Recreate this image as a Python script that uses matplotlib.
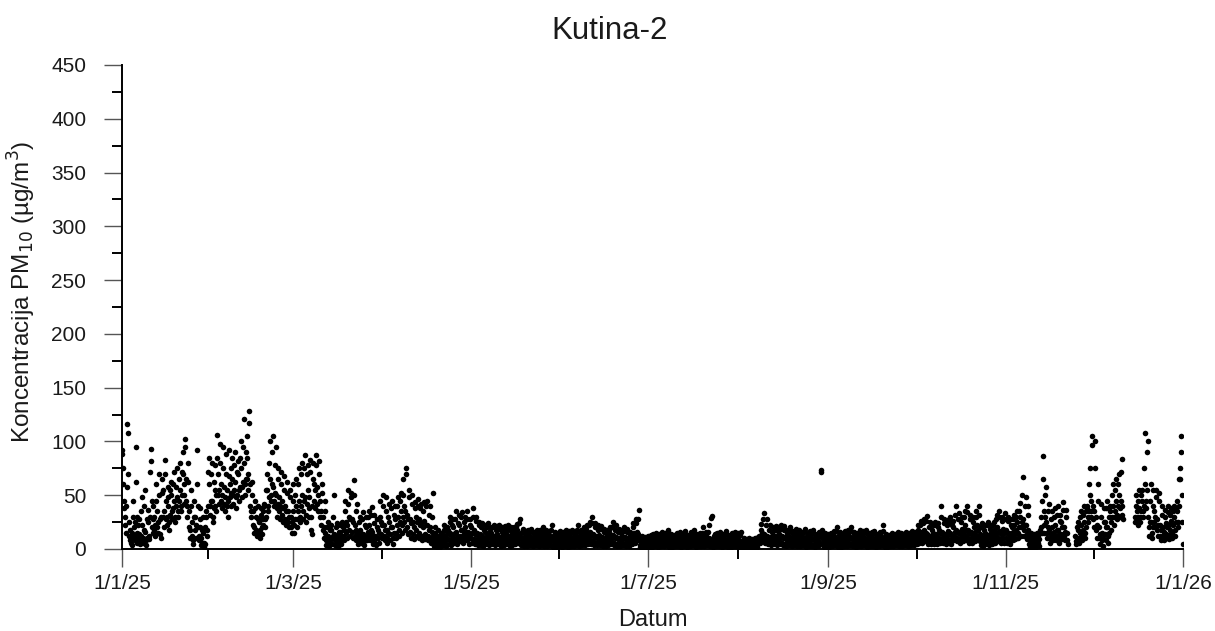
import numpy as np
import matplotlib
matplotlib.use("Agg")
import matplotlib.pyplot as plt
from matplotlib.ticker import FixedLocator, NullFormatter

# PM10 readings at Kutina-2, six readings per day (00, 04, 08, 12, 16, 20 h), µg/m3.
# "nan" marks hours without a valid measurement.
jan = """
88 92 75 60 45 38
30 22 15 40 58 116
108 70 25 12 8 18
10 6 4 15 30 45
20 12 8 25 62 95
30 15 6 10 22 28
14 8 5 12 35 48
22 10 6 18 40 55
16 8 4 10 28 36
25 12 9 30 72 93
82 45 20 15 28 40
30 18 12 22 45 60
35 20 15 25 50 70
28 14 10 30 52 65
55 30 20 35 70 83
45 28 22 30 48 58
40 25 18 32 55 62
50 35 28 38 60 72
45 30 25 40 58 75
48 35 30 45 65 80
55 40 35 50 72 90
70 50 42 60 95 102
65 45 30 40 62 80
35 20 10 18 40 55
25 12 5 8 30 45
30 18 10 22 60 92
40 20 8 12 28 38
20 10 4 6 18 30
15 6 2 5 20 35
30 18 12 40 72 85
60 40 32 45 70 80
"""
feb = """
45 30 25 38 62 78
55 40 35 50 85 106
70 50 42 55 80 98
60 45 38 50 75 95
58 42 35 48 70 88
55 40 30 45 68 92
60 48 40 52 75 85
65 50 42 55 78 90
62 48 38 50 72 82
70 55 45 58 85 100
75 58 48 62 95 121
80 60 50 65 90 105
85 65 55 70 117 128
60 40 30 35 50 62
35 22 15 20 38 45
30 18 12 15 28 40
25 15 10 18 32 38
28 20 14 22 35 42
40 28 20 30 55 70
55 40 35 48 80 100
65 50 45 60 90 105
58 45 40 52 78 95
50 38 30 42 65 75
48 35 28 40 60 72
45 32 25 38 55 68
40 28 22 35 52 62
35 25 20 30 48 55
30 20 15 25 45 60
"""
mar = """
35 22 15 28 50 65
40 28 20 35 60 75
45 30 25 40 70 80
50 35 28 45 75 87
48 32 25 42 70 78
55 38 30 48 72 83
30 18 14 40 65 80
60 45 38 55 78 87
58 42 35 50 70 82
45 30 22 35 52 60
30 18 10 20 35 45
15 8 4 10 20 25
12 6 3 8 18 22
18 10 5 12 30 50
14 8 4 10 20 24
12 6 2 8 16 22
16 8 5 12 22 25
20 12 8 18 35 45
25 15 10 22 42 55
30 18 12 28 48 52
28 16 10 25 50 64
22 12 8 18 35 42
15 8 5 12 25 30
18 10 6 14 28 34
14 7 4 10 22 30
20 12 8 16 30 35
22 12 8 18 32 39
16 8 5 12 24 32
12 6 4 10 20 28
18 10 6 15 30 45
25 14 10 22 40 50
"""
apr = """
22 12 8 18 35 48
18 10 6 15 30 42
25 14 8 20 38 45
20 10 5 15 32 40
28 15 10 22 40 48
30 18 12 25 45 52
35 22 15 30 50 65
40 25 18 35 70 75
32 20 14 28 48 55
28 16 10 24 42 50
25 14 9 20 38 44
30 18 12 25 40 46
28 15 10 22 38 42
24 12 8 20 35 44
26 14 9 22 40 45
22 12 8 18 32 40
20 10 6 16 30 52
12 6 3 8 15 20
10 5 2 6 12 18
8 4 2 5 10 15
14 7 4 10 18 22
12 6 3 9 16 20
18 9 5 14 25 30
15 8 4 12 22 28
20 10 6 15 28 35
16 8 5 12 24 32
22 12 7 18 30 34
18 10 6 14 25 30
20 12 8 16 28 35
16 9 5 12 22 28
"""
may = """
20 10 6 15 30 38
18 9 5 14 26 30
15 8 4 12 22 25
14 7 4 10 20 24
12 6 3 9 18 22
16 8 5 12 20 24
13 6 4 10 17 20
15 8 5 12 20 22
12 6 4 10 18 21
14 7 5 11 19 22
11 6 3 9 16 20
13 7 4 10 18 21
15 8 5 12 19 22
12 6 3 9 17 20
14 7 4 11 18 20
16 8 5 13 20 23
18 9 6 14 24 28
12 6 4 9 16 19
10 5 3 8 14 17
11 6 3 9 15 18
13 7 4 10 17 19
10 5 3 8 14 16
12 6 4 9 16 18
11 5 3 8 15 18
14 7 4 10 17 20
12 6 3 9 15 18
10 5 3 8 14 17
13 7 4 10 18 22
9 4 2 7 13 16
8 4 2 6 12 15
10 5 3 8 14 17
"""
jun = """
9 4 2 7 13 16
11 5 3 8 15 18
10 5 2 7 14 17
12 6 3 9 16 18
10 5 3 8 14 17
13 7 4 10 18 22
11 5 3 8 15 18
12 6 4 9 17 20
14 7 4 11 19 22
15 8 5 12 22 25
16 8 5 13 24 30
14 7 4 11 20 24
12 6 4 10 18 22
13 7 4 10 19 21
11 6 3 9 16 19
10 5 3 8 15 18
12 6 4 10 18 20
14 7 5 11 20 25
13 6 4 10 18 22
11 5 3 9 16 19
10 5 3 8 15 18
12 6 4 10 17 20
11 5 3 8 16 19
10 5 3 8 14 16
13 7 5 11 20 24
15 8 6 13 24 28
16 10 8 14 28 36
8 4 2 6 10 12
7 3 2 5 9 11
8 4 2 6 10 12
"""
jul = """
8 4 2 6 11 13
9 4 2 7 12 14
10 5 3 8 13 15
9 4 2 7 12 14
11 5 3 8 14 16
10 5 3 8 13 15
12 6 4 9 16 18
9 4 2 7 12 14
8 4 2 6 11 13
10 5 3 8 13 15
11 5 3 8 14 16
9 4 2 7 12 14
10 5 3 8 13 17
8 4 2 6 11 13
11 6 3 8 14 16
12 6 4 9 15 18
9 4 2 7 12 14
10 5 3 8 13 15
11 6 3 9 15 20
10 5 3 8 13 16
12 6 4 9 16 22
10 5 3 8 29 31
9 4 2 7 12 14
10 5 3 8 13 15
11 5 3 8 14 16
9 4 2 7 12 14
10 5 3 8 14 17
8 4 2 6 11 13
9 4 2 7 12 15
11 5 3 8 14 16
10 5 3 8 13 15
"""
aug = """
9 4 2 7 13 16
6 3 1 4 8 10
5 2 1 3 7 9
6 3 1 4 8 10
5 2 1 4 7 9
6 3 2 4 8 10
7 3 2 5 9 11
12 8 6 10 18 23
15 10 8 14 28 33
14 9 6 12 22 28
12 7 5 10 18 22
11 6 4 9 16 20
13 7 5 10 18 21
12 6 4 9 17 20
14 7 5 11 19 22
12 6 4 10 18 21
11 5 3 9 15 18
13 7 4 10 17 20
10 5 3 8 14 17
12 6 4 9 16 19
11 5 3 8 15 18
10 5 3 8 14 16
12 6 4 9 16 19
9 4 2 7 12 15
10 5 3 8 14 17
11 5 3 9 15 18
9 4 2 7 12 14
10 5 3 8 13 16
12 6 72 73 15 18
9 4 2 7 12 15
8 4 2 6 11 14
"""
sep = """
8 4 2 6 12 15
10 5 3 8 14 17
12 6 4 9 17 20
9 4 2 7 13 16
8 4 2 6 12 14
10 5 3 8 14 17
11 5 3 9 15 18
12 6 4 10 17 20
10 5 3 8 14 16
9 4 2 7 13 15
11 6 3 9 15 18
10 5 3 8 14 17
12 6 4 9 16 18
9 4 2 7 13 15
10 5 3 8 14 16
11 5 3 8 15 17
9 4 2 7 12 14
10 5 3 8 14 16
12 6 4 9 17 22
9 4 2 7 12 14
8 4 2 6 11 13
10 5 3 8 13 15
9 4 3 7 12 14
11 6 4 8 14 16
10 5 3 8 13 15
9 5 3 7 12 14
11 6 4 9 14 16
10 5 3 8 13 15
12 6 4 9 15 17
11 6 4 9 14 16
"""
oct_ = """
12 7 5 10 18 22
14 8 6 12 22 26
16 9 6 13 24 28
18 10 7 15 26 31
14 8 5 12 20 25
12 7 5 10 18 22
15 8 5 12 22 25
14 7 5 11 20 24
18 10 6 15 30 40
16 9 6 13 24 28
14 8 5 12 22 27
17 9 6 14 25 30
15 8 5 12 22 26
20 12 8 16 32 40
18 10 7 15 28 33
16 9 6 13 25 30
19 11 7 16 30 35
22 12 8 18 34 40
18 10 6 15 28 32
16 9 6 13 25 30
20 11 7 16 30 35
22 12 8 18 32 40
14 7 4 11 20 24
12 6 3 9 18 22
15 8 5 12 22 25
13 6 4 10 19 22
16 8 5 13 22 25
18 10 6 15 28 32
20 11 7 16 30 35
17 9 6 14 26 30
19 10 6 15 28 33
"""
nov = """
18 10 6 15 26 30
15 8 5 12 22 28
20 12 8 16 28 32
22 14 9 18 30 35
25 15 10 20 35 43
30 20 12 25 50 67
28 18 12 22 40 48
22 14 9 18 32 40
10 5 2 6 12 15
8 4 2 5 10 14
9 4 2 6 12 15
12 6 3 9 15 18
30 20 15 45 65 86
35 22 15 30 50 58
25 15 10 20 35 42
18 10 6 14 28 35
20 12 8 16 30 38
22 12 8 18 32 40
18 10 6 14 26 32
25 14 9 20 36 44
20 12 8 16 30 36
15 8 5 nan nan nan
nan nan nan nan nan nan
nan nan nan nan nan nan
12 7 5 10 20 25
18 10 6 15 30 35
22 12 8 18 32 40
25 15 10 20 35 38
40 30 25 35 60 75
50 35 30 45 97 105
"""
dec = """
40 28 20 35 75 100
30 18 10 22 45 60
20 10 5 14 30 42
15 8 3 10 25 38
25 14 8 20 38 45
20 12 6 15 30 40
35 25 18 30 50 60
40 30 22 35 55 65
45 32 28 40 60 70
50 38 30 45 72 84
40 32 28 nan nan nan
nan nan nan nan nan nan
nan nan nan nan nan nan
nan nan nan nan nan nan
nan nan 30 25 40 50
35 28 22 30 45 55
38 30 25 35 50 55
45 35 30 40 75 108
60 45 38 55 90 100
30 20 12 25 45 60
25 15 10 20 40 55
35 25 20 30 48 55
28 18 12 22 45 52
22 12 8 18 32 40
20 12 8 16 30 36
24 14 10 20 34 40
22 13 9 18 32 38
26 15 10 22 35 40
30 18 12 25 38 45
35 25 20 40 65 75
65 90 105 50 25 5
"""

months = [jan, feb, mar, apr, may, jun, jul, aug, sep, oct_, nov, dec]
tick_days = [0, 59, 120, 181, 243, 304, 365]
tick_labels = ["1/1/25", "1/3/25", "1/5/25", "1/7/25", "1/9/25", "1/11/25", "1/1/26"]

readings = np.concatenate([np.array(m.split(), dtype=float) for m in months]).reshape(-1, 6)
day = np.arange(readings.shape[0])[:, None] + np.arange(6)[None, :] / 6.0
t = day.ravel()
pm10 = readings.ravel()
ok = ~np.isnan(pm10)

plt.rcParams["font.family"] = ["Liberation Sans", "DejaVu Sans"]

fig = plt.figure(figsize=(12.15, 6.31), dpi=100)
ax = fig.add_axes([0.1004, 0.130, 0.8733, 0.767])

ax.plot(t[ok], pm10[ok], linestyle="none", marker="o", markersize=4.0,
        markerfacecolor="black", markeredgecolor="black", markeredgewidth=0)

ax.set_xlim(0, 365)
ax.set_ylim(0, 450)

for side in ("top", "right"):
    ax.spines[side].set_visible(False)
for side in ("left", "bottom"):
    ax.spines[side].set_linewidth(1.4)
    ax.spines[side].set_color("black")

ax.xaxis.set_major_locator(FixedLocator(tick_days))
ax.set_xticklabels(tick_labels)
mids = [(a + b) / 2 for a, b in zip(tick_days[:-1], tick_days[1:])]
ax.xaxis.set_minor_locator(FixedLocator(mids))
ax.xaxis.set_minor_formatter(NullFormatter())

ax.yaxis.set_major_locator(FixedLocator(np.arange(0, 451, 50)))
ax.yaxis.set_minor_locator(FixedLocator(np.arange(25, 450, 50)))

ax.tick_params(axis="both", which="major", direction="out", length=12.7,
               width=1.0, color="#555555", labelsize=15, labelcolor="#1a1a1a")
ax.tick_params(axis="both", which="minor", direction="out", length=7.2,
               width=1.4, color="black")
ax.tick_params(axis="y", which="major", pad=13)
ax.tick_params(axis="x", which="major", pad=5.5)

ax.set_xlabel("Datum", fontsize=17, color="#1a1a1a", va="top")
ax.xaxis.set_label_coords(0.5, -0.124)
ax.set_ylabel("Koncentracija PM$_{10}$ (µg/m$^3$)", fontsize=17.5, color="#1a1a1a",
              va="bottom")
ax.yaxis.set_label_coords(-0.0795, 0.53)

fig.text(0.502, 1 - 39.3 / 631, "Kutina-2", ha="center", va="baseline",
         fontsize=22.5, color="#1a1a1a")

fig.savefig("out.png", dpi=100)
